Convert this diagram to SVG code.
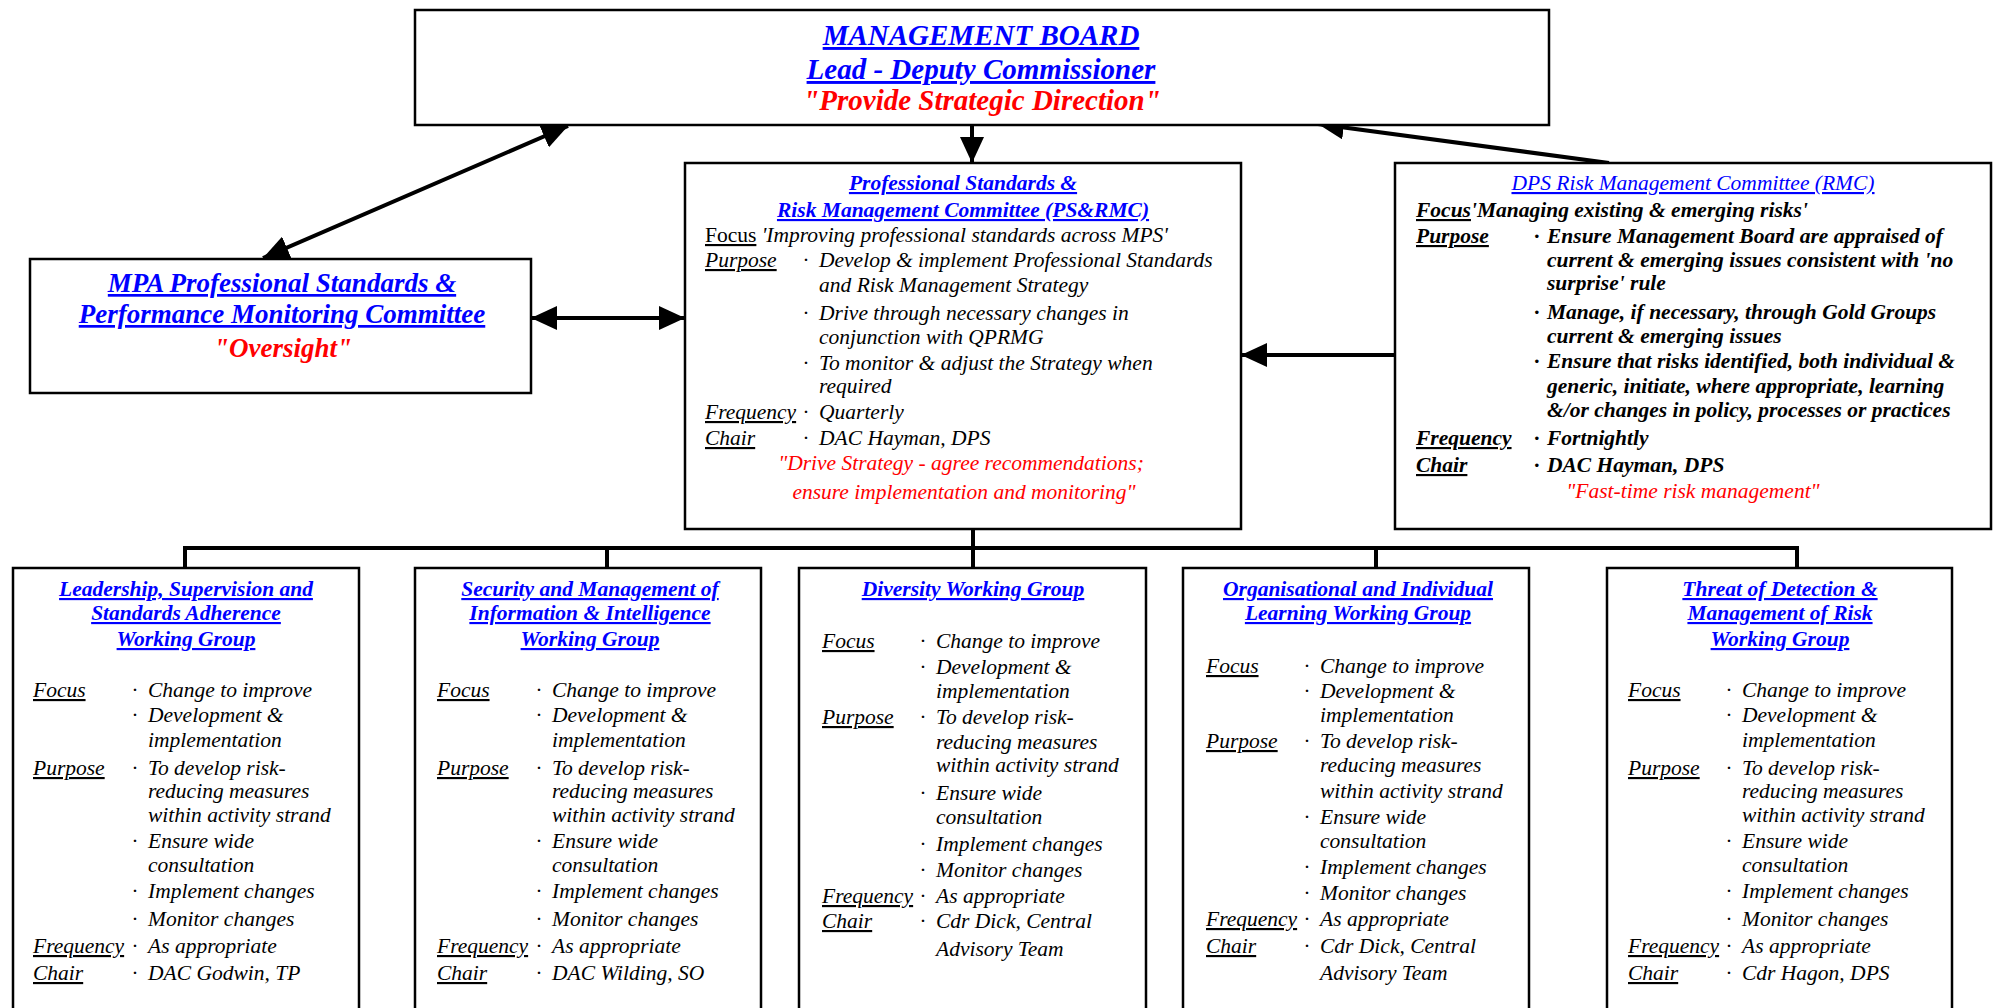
<svg xmlns="http://www.w3.org/2000/svg" width="1993" height="1008" viewBox="0 0 1993 1008">
<style>
text { font-family: "Liberation Serif", "Times New Roman", serif; font-size: 21.5px; fill: #000; }
.bi { font-weight: bold; font-style: italic; }
.i { font-style: italic; }
.r { font-style: normal; }
.u { text-decoration: underline; }
.blue { fill: #0000ff; }
.red { fill: #ff0000; }
.c { text-anchor: middle; }
.big { font-size: 29px; }
.mid { font-size: 27px; }
.box { fill: #fff; stroke: #000; stroke-width: 2.5; }
.conn { stroke: #000; stroke-width: 4; fill: none; }
</style>
<defs>
<marker id="ah" markerUnits="userSpaceOnUse" markerWidth="26" markerHeight="24" viewBox="0 0 26 24" refX="26" refY="12" orient="auto-start-reverse">
<path d="M0,0 L26,12 L0,24 z" fill="#000"/>
</marker>
</defs>
<rect width="1993" height="1008" fill="#fff"/>

<g id="connectors">
<line class="conn" x1="972" y1="125" x2="972" y2="163" marker-end="url(#ah)"/>
<line class="conn" x1="568" y1="126" x2="263" y2="258" marker-start="url(#ah)" marker-end="url(#ah)"/>
<line class="conn" x1="531" y1="318" x2="685" y2="318" marker-start="url(#ah)" marker-end="url(#ah)"/>
<line class="conn" x1="1609" y1="163" x2="1318" y2="124" marker-end="url(#ah)"/>
<line class="conn" x1="1395" y1="355" x2="1241" y2="355" marker-end="url(#ah)"/>
<path class="conn" d="M973,529 V568 M185,568 V548 H1797 V568 M607,548 V568 M1376,548 V568"/>
</g>

<g id="management-board">
<rect class="box" x="415" y="10" width="1134" height="115"/>
<text class="bi blue u big c" x="981" y="45">MANAGEMENT BOARD</text>
<text class="bi blue u big c" x="981" y="79">Lead - Deputy Commissioner</text>
<text class="bi red big c" x="982" y="110">&quot;Provide Strategic Direction&quot;</text>
</g>

<g id="mpa-committee">
<rect class="box" x="30" y="259" width="501" height="134"/>
<text class="bi blue u mid c" x="282" y="292">MPA Professional Standards &amp;</text>
<text class="bi blue u mid c" x="282" y="323">Performance Monitoring Committee</text>
<text class="bi red mid c" x="283" y="357">&quot;Oversight&quot;</text>
</g>

<g id="psrmc">
<rect class="box" x="685" y="163" width="556" height="366"/>
<text class="bi blue u c" x="963" y="190">Professional Standards &amp;</text>
<text class="bi blue u c" x="963" y="217">Risk Management Committee (PS&amp;RMC)</text>
<text x="705" y="242"><tspan class="u">Focus</tspan><tspan class="i"> 'Improving professional standards across MPS'</tspan></text>
<text class="i u" x="705" y="267">Purpose</text>
<text class="i" x="803" y="267">·</text>
<text class="i" x="819" y="267">Develop &amp; implement Professional Standards</text>
<text class="i" x="819" y="292">and Risk Management Strategy</text>
<text class="i" x="803" y="320">·</text>
<text class="i" x="819" y="320">Drive through necessary changes in</text>
<text class="i" x="819" y="344">conjunction with QPRMG</text>
<text class="i" x="803" y="370">·</text>
<text class="i" x="819" y="370">To monitor &amp; adjust the Strategy when</text>
<text class="i" x="819" y="393">required</text>
<text class="i u" x="705" y="419">Frequency</text>
<text class="i" x="803" y="419">·</text>
<text class="i" x="819" y="419">Quarterly</text>
<text class="i u" x="705" y="445">Chair</text>
<text class="i" x="803" y="445">·</text>
<text class="i" x="819" y="445">DAC Hayman, DPS</text>
<text class="i red c" x="961" y="470">&quot;Drive Strategy - agree recommendations;</text>
<text class="i red c" x="964" y="499">ensure implementation and monitoring&quot;</text>
</g>

<g id="dps-rmc">
<rect class="box" x="1395" y="163" width="596" height="366"/>
<text class="i blue u c" x="1693" y="190">DPS Risk Management Committee (RMC)</text>
<text class="bi" x="1416" y="217"><tspan class="u">Focus</tspan>'Managing existing &amp; emerging risks'</text>
<text class="bi u" x="1416" y="243">Purpose</text>
<text class="bi" x="1534" y="243">·</text>
<text class="bi" x="1547" y="243">Ensure Management Board are appraised of</text>
<text class="bi" x="1547" y="267">current &amp; emerging issues consistent with 'no</text>
<text class="bi" x="1547" y="290">surprise' rule</text>
<text class="bi" x="1534" y="319">·</text>
<text class="bi" x="1547" y="319">Manage, if necessary, through Gold Groups</text>
<text class="bi" x="1547" y="343">current &amp; emerging issues</text>
<text class="bi" x="1534" y="368">·</text>
<text class="bi" x="1547" y="368">Ensure that risks identified, both individual &amp;</text>
<text class="bi" x="1547" y="393">generic, initiate, where appropriate, learning</text>
<text class="bi" x="1547" y="417">&amp;/or changes in policy, processes or practices</text>
<text class="bi u" x="1416" y="445">Frequency</text>
<text class="bi" x="1534" y="445">·</text>
<text class="bi" x="1547" y="445">Fortnightly</text>
<text class="bi u" x="1416" y="472">Chair</text>
<text class="bi" x="1534" y="472">·</text>
<text class="bi" x="1547" y="472">DAC Hayman, DPS</text>
<text class="i red c" x="1693" y="498">&quot;Fast-time risk management&quot;</text>
</g>

<g id="wg-leadership">
<rect class="box" x="13" y="568" width="346" height="460"/>
<text class="bi blue u c" x="186" y="596">Leadership, Supervision and</text>
<text class="bi blue u c" x="186" y="620">Standards Adherence</text>
<text class="bi blue u c" x="186" y="646">Working Group</text>
<text class="i u" x="33" y="697">Focus</text>
<text class="i" x="132" y="697">·</text><text class="i" x="148" y="697">Change to improve</text>
<text class="i" x="132" y="722">·</text><text class="i" x="148" y="722">Development &amp;</text>
<text class="i" x="148" y="747">implementation</text>
<text class="i u" x="33" y="775">Purpose</text>
<text class="i" x="132" y="775">·</text><text class="i" x="148" y="775">To develop risk-</text>
<text class="i" x="148" y="798">reducing measures</text>
<text class="i" x="148" y="822">within activity strand</text>
<text class="i" x="132" y="848">·</text><text class="i" x="148" y="848">Ensure wide</text>
<text class="i" x="148" y="872">consultation</text>
<text class="i" x="132" y="898">·</text><text class="i" x="148" y="898">Implement changes</text>
<text class="i" x="132" y="926">·</text><text class="i" x="148" y="926">Monitor changes</text>
<text class="i u" x="33" y="953">Frequency</text>
<text class="i" x="132" y="953">·</text><text class="i" x="148" y="953">As appropriate</text>
<text class="i u" x="33" y="980">Chair</text>
<text class="i" x="132" y="980">·</text><text class="i" x="148" y="980">DAC Godwin, TP</text>
</g>

<g id="wg-security">
<rect class="box" x="415" y="568" width="346" height="460"/>
<text class="bi blue u c" x="590" y="596">Security and Management of</text>
<text class="bi blue u c" x="590" y="620">Information &amp; Intelligence</text>
<text class="bi blue u c" x="590" y="646">Working Group</text>
<text class="i u" x="437" y="697">Focus</text>
<text class="i" x="536" y="697">·</text><text class="i" x="552" y="697">Change to improve</text>
<text class="i" x="536" y="722">·</text><text class="i" x="552" y="722">Development &amp;</text>
<text class="i" x="552" y="747">implementation</text>
<text class="i u" x="437" y="775">Purpose</text>
<text class="i" x="536" y="775">·</text><text class="i" x="552" y="775">To develop risk-</text>
<text class="i" x="552" y="798">reducing measures</text>
<text class="i" x="552" y="822">within activity strand</text>
<text class="i" x="536" y="848">·</text><text class="i" x="552" y="848">Ensure wide</text>
<text class="i" x="552" y="872">consultation</text>
<text class="i" x="536" y="898">·</text><text class="i" x="552" y="898">Implement changes</text>
<text class="i" x="536" y="926">·</text><text class="i" x="552" y="926">Monitor changes</text>
<text class="i u" x="437" y="953">Frequency</text>
<text class="i" x="536" y="953">·</text><text class="i" x="552" y="953">As appropriate</text>
<text class="i u" x="437" y="980">Chair</text>
<text class="i" x="536" y="980">·</text><text class="i" x="552" y="980">DAC Wilding, SO</text>
</g>

<g id="wg-diversity">
<rect class="box" x="799" y="568" width="347" height="460"/>
<text class="bi blue u c" x="973" y="596">Diversity Working Group</text>
<text class="i u" x="822" y="648">Focus</text>
<text class="i" x="920" y="648">·</text><text class="i" x="936" y="648">Change to improve</text>
<text class="i" x="920" y="674">·</text><text class="i" x="936" y="674">Development &amp;</text>
<text class="i" x="936" y="698">implementation</text>
<text class="i u" x="822" y="724">Purpose</text>
<text class="i" x="920" y="724">·</text><text class="i" x="936" y="724">To develop risk-</text>
<text class="i" x="936" y="749">reducing measures</text>
<text class="i" x="936" y="772">within activity strand</text>
<text class="i" x="920" y="800">·</text><text class="i" x="936" y="800">Ensure wide</text>
<text class="i" x="936" y="824">consultation</text>
<text class="i" x="920" y="851">·</text><text class="i" x="936" y="851">Implement changes</text>
<text class="i" x="920" y="877">·</text><text class="i" x="936" y="877">Monitor changes</text>
<text class="i u" x="822" y="903">Frequency</text>
<text class="i" x="920" y="903">·</text><text class="i" x="936" y="903">As appropriate</text>
<text class="i u" x="822" y="928">Chair</text>
<text class="i" x="920" y="928">·</text><text class="i" x="936" y="928">Cdr Dick, Central</text>
<text class="i" x="936" y="956">Advisory Team</text>
</g>

<g id="wg-learning">
<rect class="box" x="1183" y="568" width="346" height="460"/>
<text class="bi blue u c" x="1358" y="596">Organisational and Individual</text>
<text class="bi blue u c" x="1358" y="620">Learning Working Group</text>
<text class="i u" x="1206" y="673">Focus</text>
<text class="i" x="1304" y="673">·</text><text class="i" x="1320" y="673">Change to improve</text>
<text class="i" x="1304" y="698">·</text><text class="i" x="1320" y="698">Development &amp;</text>
<text class="i" x="1320" y="722">implementation</text>
<text class="i u" x="1206" y="748">Purpose</text>
<text class="i" x="1304" y="748">·</text><text class="i" x="1320" y="748">To develop risk-</text>
<text class="i" x="1320" y="772">reducing measures</text>
<text class="i" x="1320" y="798">within activity strand</text>
<text class="i" x="1304" y="824">·</text><text class="i" x="1320" y="824">Ensure wide</text>
<text class="i" x="1320" y="848">consultation</text>
<text class="i" x="1304" y="874">·</text><text class="i" x="1320" y="874">Implement changes</text>
<text class="i" x="1304" y="900">·</text><text class="i" x="1320" y="900">Monitor changes</text>
<text class="i u" x="1206" y="926">Frequency</text>
<text class="i" x="1304" y="926">·</text><text class="i" x="1320" y="926">As appropriate</text>
<text class="i u" x="1206" y="953">Chair</text>
<text class="i" x="1304" y="953">·</text><text class="i" x="1320" y="953">Cdr Dick, Central</text>
<text class="i" x="1320" y="980">Advisory Team</text>
</g>

<g id="wg-threat">
<rect class="box" x="1607" y="568" width="345" height="460"/>
<text class="bi blue u c" x="1780" y="596">Threat of Detection &amp;</text>
<text class="bi blue u c" x="1780" y="620">Management of Risk</text>
<text class="bi blue u c" x="1780" y="646">Working Group</text>
<text class="i u" x="1628" y="697">Focus</text>
<text class="i" x="1726" y="697">·</text><text class="i" x="1742" y="697">Change to improve</text>
<text class="i" x="1726" y="722">·</text><text class="i" x="1742" y="722">Development &amp;</text>
<text class="i" x="1742" y="747">implementation</text>
<text class="i u" x="1628" y="775">Purpose</text>
<text class="i" x="1726" y="775">·</text><text class="i" x="1742" y="775">To develop risk-</text>
<text class="i" x="1742" y="798">reducing measures</text>
<text class="i" x="1742" y="822">within activity strand</text>
<text class="i" x="1726" y="848">·</text><text class="i" x="1742" y="848">Ensure wide</text>
<text class="i" x="1742" y="872">consultation</text>
<text class="i" x="1726" y="898">·</text><text class="i" x="1742" y="898">Implement changes</text>
<text class="i" x="1726" y="926">·</text><text class="i" x="1742" y="926">Monitor changes</text>
<text class="i u" x="1628" y="953">Frequency</text>
<text class="i" x="1726" y="953">·</text><text class="i" x="1742" y="953">As appropriate</text>
<text class="i u" x="1628" y="980">Chair</text>
<text class="i" x="1726" y="980">·</text><text class="i" x="1742" y="980">Cdr Hagon, DPS</text>
</g>
</svg>
